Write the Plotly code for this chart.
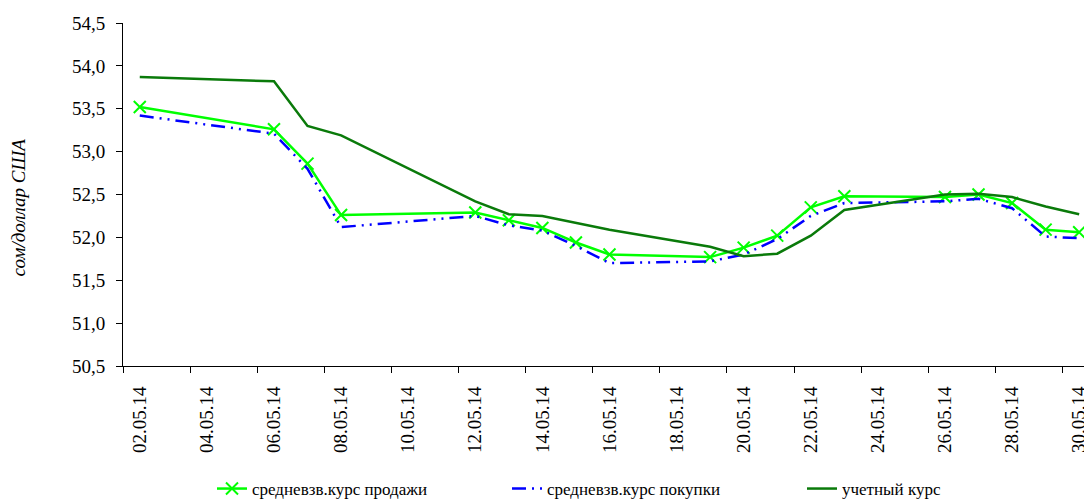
import plotly.graph_objects as go

# ---- data ----
dates = ["02.05.14", "06.05.14", "07.05.14", "08.05.14", "12.05.14", "13.05.14",
         "14.05.14", "15.05.14", "16.05.14", "19.05.14", "20.05.14", "21.05.14",
         "22.05.14", "23.05.14", "26.05.14", "27.05.14", "28.05.14", "29.05.14",
         "30.05.14"]
sell = [53.52, 53.26, 52.86, 52.26, 52.29, 52.20, 52.11, 51.94, 51.80, 51.77,
        51.88, 52.02, 52.35, 52.48, 52.47, 52.50, 52.40, 52.09, 52.06]
buy = [53.42, 53.21, 52.80, 52.12, 52.25, 52.14, 52.08, 51.90, 51.70, 51.72,
       51.80, 51.98, 52.25, 52.40, 52.42, 52.45, 52.34, 52.01, 51.99]
official = [53.87, 53.82, 53.30, 53.19, 52.42, 52.27, 52.25, 52.17, 52.09, 51.89,
            51.78, 51.81, 52.02, 52.32, 52.50, 52.51, 52.47, 52.36, 52.27]
tick_labels = ["02.05.14", "04.05.14", "06.05.14", "08.05.14", "10.05.14",
               "12.05.14", "14.05.14", "16.05.14", "18.05.14", "20.05.14",
               "22.05.14", "24.05.14", "26.05.14", "28.05.14", "30.05.14"]
y_ticks = [50.5, 51.0, 51.5, 52.0, 52.5, 53.0, 53.5, 54.0, 54.5]

names = ["средневзв.курс продажи", "средневзв.курс покупки", "учетный курс"]
y_title = "сом/доллар США"


def day(s):
    return int(s[:2])


x = [day(d) for d in dates]
tick_pos = [day(t) for t in tick_labels]
boundary_pos = [p - 0.5 for p in tick_pos]

FONT = "'Liberation Serif', 'Times New Roman', 'DejaVu Serif', serif"

# page body has an 8px margin: plot area 115..1092 x 15..359 in figure coords
L, T, B = 115, 15, 140
PW, PH = 1092 - L, 499 - T - B

fig = go.Figure()
fig.add_trace(go.Scatter(
    x=x, y=sell, name=names[0], mode="lines+markers",
    line=dict(color="#00FF00", width=2.5),
    marker=dict(symbol="x-thin-open", size=12, color="#00FF00",
                line=dict(color="#00FF00", width=2)),
))
fig.add_trace(go.Scatter(
    x=x, y=buy, name=names[1], mode="lines",
    line=dict(color="#0000FF", width=2.5, dash="14px,6px,2px,6px,2px,6px"),
))
fig.add_trace(go.Scatter(
    x=x, y=official, name=names[2], mode="lines",
    line=dict(color="#0A7A0A", width=2.5),
))

fig.update_layout(
    width=1092, height=499,
    margin=dict(l=L, r=0, t=T, b=B),
    paper_bgcolor="white", plot_bgcolor="white",
    separators=", ",
    font=dict(family=FONT, size=18, color="black"),
    showlegend=True,
    legend=dict(orientation="h", x=(204 - L) / PW, xanchor="left",
                y=(359 - 482) / PH, yanchor="middle",
                font=dict(family=FONT, size=17, color="black"),
                entrywidth=250, entrywidthmode="pixels",
                bgcolor="rgba(0,0,0,0)"),
)

fig.update_xaxes(
    range=[1.5, 1.5 + PW / 33.55],
    tickmode="array", tickvals=tick_pos, ticktext=tick_labels,
    tickangle=-90, ticks="outside", ticklen=6, tickcolor="rgba(0,0,0,0)",
    ticklabelstandoff=6,
    minor=dict(tickmode="array", tickvals=boundary_pos, ticks="outside",
               ticklen=6, tickcolor="black", tickwidth=1, showgrid=False),
    showline=True, linecolor="black", linewidth=1,
    showgrid=False, zeroline=False,
    tickfont=dict(family=FONT, size=19, color="black"),
)
fig.update_yaxes(
    range=[50.5, 54.5],
    tickmode="array", tickvals=y_ticks, tickformat=".1f",
    ticks="outside", ticklen=6, tickcolor="black",
    ticklabelstandoff=7,
    showline=True, linecolor="black", linewidth=1,
    showgrid=False, zeroline=False,
    tickfont=dict(family=FONT, size=19, color="black"),
)

fig.add_annotation(
    text=y_title, xref="paper", yref="paper",
    x=(10 - L) / PW, y=(359 - 200) / PH,
    xanchor="center", yanchor="middle", textangle=-90, showarrow=False,
    font=dict(family=FONT, size=19, color="black", style="italic"),
)

fig.write_html("out.html")
